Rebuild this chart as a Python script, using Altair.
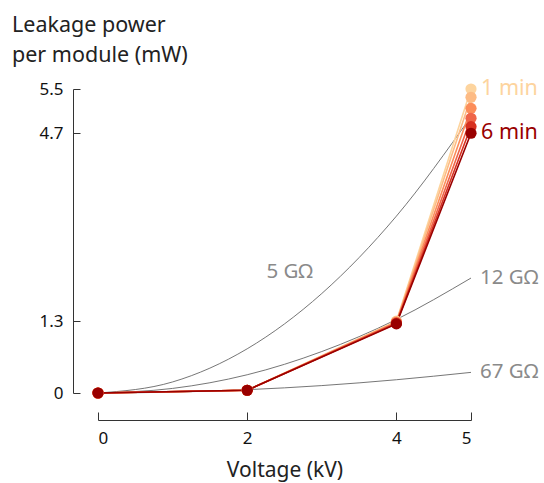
import altair as alt
import pandas as pd

FONT = "Noto Sans"

# Measured leakage power (mW) per module at each test voltage (kV), per dwell time
voltage = [0, 2, 4, 5]
minutes = ["1 min", "2 min", "3 min", "4 min", "5 min", "6 min"]
power_1min = [0, 0.05, 1.30, 5.50]
power_2min = [0, 0.05, 1.29, 5.35]
power_3min = [0, 0.05, 1.28, 5.15]
power_4min = [0, 0.05, 1.27, 4.97]
power_5min = [0, 0.05, 1.26, 4.82]
power_6min = [0, 0.05, 1.25, 4.70]
minute_colors = ["#fdd49e", "#fdbb84", "#fc8d59", "#ef6548", "#d7301f", "#990000"]

# Reference resistance curves (P = V^2 / R), read at whole kV steps
ref_voltage = [0, 1, 2, 3, 4, 5]
ref_names = ["5 GΩ", "12 GΩ", "67 GΩ"]
ref_5g = [0, 0.20, 0.80, 1.80, 3.20, 5.00]
ref_12g = [0, 0.083, 0.33, 0.75, 1.33, 2.08]
ref_67g = [0, 0.015, 0.06, 0.134, 0.24, 0.373]

# Where each reference label sits (kV, mW)
ref_label_x = [2.57, 5.0, 5.0]
ref_label_y = [2.19, 2.08, 0.373]

x_ticks = [0, 2, 4, 5]
y_ticks = [0, 1.3, 4.7, 5.5]

series = [power_1min, power_2min, power_3min, power_4min, power_5min, power_6min]
meas = pd.DataFrame(
    [
        {"minute": m, "order": i, "voltage": v, "power": p}
        for i, (m, vals) in enumerate(zip(minutes, series))
        for v, p in zip(voltage, vals)
    ]
)
refs = pd.DataFrame(
    [
        {"curve": n, "voltage": v, "power": p}
        for n, vals in zip(ref_names, [ref_5g, ref_12g, ref_67g])
        for v, p in zip(ref_voltage, vals)
    ]
)
ref_labels = pd.DataFrame({"curve": ref_names, "x": ref_label_x, "y": ref_label_y})
end_labels = meas[(meas["voltage"] == 5) & (meas["minute"].isin(["1 min", "6 min"]))]

x_scale = alt.Scale(domain=[0, 5], nice=False)
y_scale = alt.Scale(domain=[0, 5.5], nice=False)

x_axis = alt.Axis(
    values=x_ticks, format="d", title="Voltage (kV)", offset=27,
    tickSize={"expr": "-8"}, labelPadding=18, grid=False,
    titleFontSize=21, titleFontWeight="normal", titlePadding=13,
)
y_axis = alt.Axis(
    values=y_ticks, format=".1~f", title=None, offset=25,
    tickSize={"expr": "-7"}, labelPadding=17, grid=False,
)

color_scale = alt.Scale(domain=minutes, range=minute_colors)

ref_lines = alt.Chart(refs).mark_line(
    color="#666666", strokeWidth=0.9, interpolate="monotone"
).encode(
    x=alt.X("voltage:Q", scale=x_scale, axis=x_axis),
    y=alt.Y("power:Q", scale=y_scale, axis=y_axis),
    detail="curve:N",
)

ref_base = alt.Chart(ref_labels).encode(
    x=alt.X("x:Q", scale=x_scale),
    y=alt.Y("y:Q", scale=y_scale),
    text="curve:N",
)
ref_text_mid = ref_base.transform_filter(alt.datum.curve == "5 GΩ").mark_text(
    font=FONT, fontSize=20.5, color="#8a8a8a", baseline="middle", align="center"
)
ref_text_end = ref_base.transform_filter(alt.datum.curve != "5 GΩ").mark_text(
    font=FONT, fontSize=20.5, color="#8a8a8a", baseline="middle", align="left", dx=9
)

meas_lines = alt.Chart(meas).mark_line(strokeWidth=1.6).encode(
    x=alt.X("voltage:Q", scale=x_scale),
    y=alt.Y("power:Q", scale=y_scale),
    color=alt.Color("minute:N", scale=color_scale, legend=None),
    order="order:Q",
)

meas_points = alt.Chart(meas).mark_circle(size=125, opacity=1).encode(
    x=alt.X("voltage:Q", scale=x_scale),
    y=alt.Y("power:Q", scale=y_scale),
    color=alt.Color("minute:N", scale=color_scale, legend=None),
    order="order:Q",
)

end_text = alt.Chart(end_labels).mark_text(
    font=FONT, fontSize=21.5, align="left", baseline="middle", dx=10
).encode(
    x=alt.X("voltage:Q", scale=x_scale),
    y=alt.Y("power:Q", scale=y_scale),
    text="minute:N",
    color=alt.Color("minute:N", scale=color_scale, legend=None),
)

chart = (
    alt.layer(ref_lines, ref_text_mid, ref_text_end, meas_lines, meas_points, end_text)
    .properties(
        width=373,
        height=304,
        autosize=alt.AutoSizeParams(type="none"),
        padding={"left": 98, "top": 89, "right": 73, "bottom": 90},
        title=alt.TitleParams(
            text=["Leakage power", "per module (mW)"],
            anchor="start", frame="group", dx=-86, offset=12,
            fontSize=21.5, fontWeight="normal", font=FONT, color="#222222",
            lineHeight=30,
        ),
    )
    .configure_view(stroke=None)
    .configure_axis(
        domainColor="#333333", tickColor="#333333", labelColor="#111111",
        labelFont=FONT, titleFont=FONT, labelFontSize=17, titleColor="#222222",
        domainWidth=1, tickWidth=1,
    )
)

chart.save("out.html", embed_options={"renderer": "svg", "actions": False})
